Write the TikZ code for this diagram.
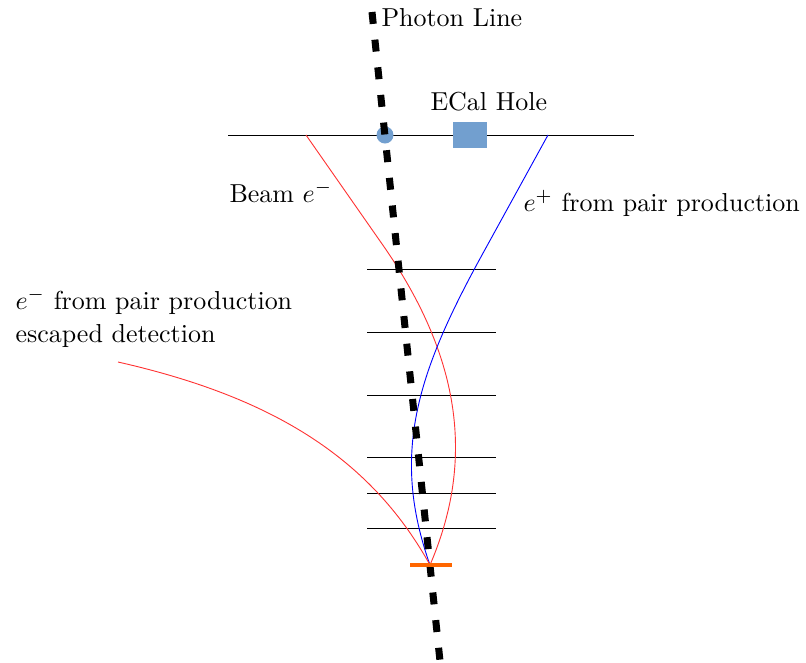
\documentclass[tikz,border=0pt]{standalone}
\begin{document}
\begin{tikzpicture}[x=0.385pt,y=-0.385pt,
  plane/.style={black, line width=0.35pt},
  photon/.style={black, line width=2.7pt, dash pattern=on 4.6pt off 6.1pt},
  lbl/.style={anchor=base west, inner sep=0pt, font=\fontsize{10}{12.7}\selectfont, align=left},
  holefill/.style={fill=holeblue, draw=none},
  eminus/.style={red!80!white, line width=0.35pt},
  eplus/.style={blue, line width=0.35pt}]
\definecolor{holeblue}{HTML}{729FCF}
\definecolor{hitorange}{HTML}{FF6600}
\useasboundingbox (0,0) rectangle (806,663);
% beam plane
\coordinate (pl) at (228,135);
\coordinate (pr) at (634,135);
\draw[plane] (pl) -- (pr);
% detector planes
\foreach \y [count=\i] in {269,332,395,457,493,528}{
  \coordinate (d\i l) at (367,\y);
  \coordinate (d\i r) at (496,\y);
  \draw[plane] (d\i l) -- (d\i r);
}
% hole markers
\node[holefill, circle, minimum size=17*0.385pt, inner sep=0pt] (hole) at (385,135) {};
\node[holefill, rectangle, minimum width=34*0.385pt, minimum height=26*0.385pt, inner sep=0pt] (ecal) at (470,135) {};
\node[lbl] (ecallbl) at (430,110) {ECal Hole};
% key points
\coordinate (V) at (430,565);
\coordinate (B) at (306,135);
\coordinate (B1) at (380,241);
\coordinate (E) at (548,135);
\coordinate (E1) at (482,255);
\coordinate (S) at (118,362);
% beam electron
\draw[eminus] (B) -- (B1) .. controls (465,361) and (473,465) .. (V);
% positron
\draw[eplus] (E) -- (E1) .. controls (416,375) and (391,455) .. (V);
% escaped electron
\draw[eminus] (S) .. controls (268,396) and (369,455) .. (V);
% photon
\coordinate (P) at (372,12);
\coordinate (Q) at (440,661);
\draw[photon] (P) -- (Q);
% hit
\coordinate (hl) at (410,565);
\coordinate (hr) at (452,565);
\draw[hitorange, line width=1.2pt] (hl) -- (hr);
% labels
\node[lbl] (photonlbl) at (381,26) {Photon Line};
\node[lbl] (beamlbl) at (229,202) {Beam $e^{-}$};
\node[lbl] (poslbl) at (523,211) {$e^{+}$ from pair production};
\node[lbl] (esclbl) at (15,342) {$e^{-}$ from pair production\\escaped detection};
\end{tikzpicture}
\end{document}
